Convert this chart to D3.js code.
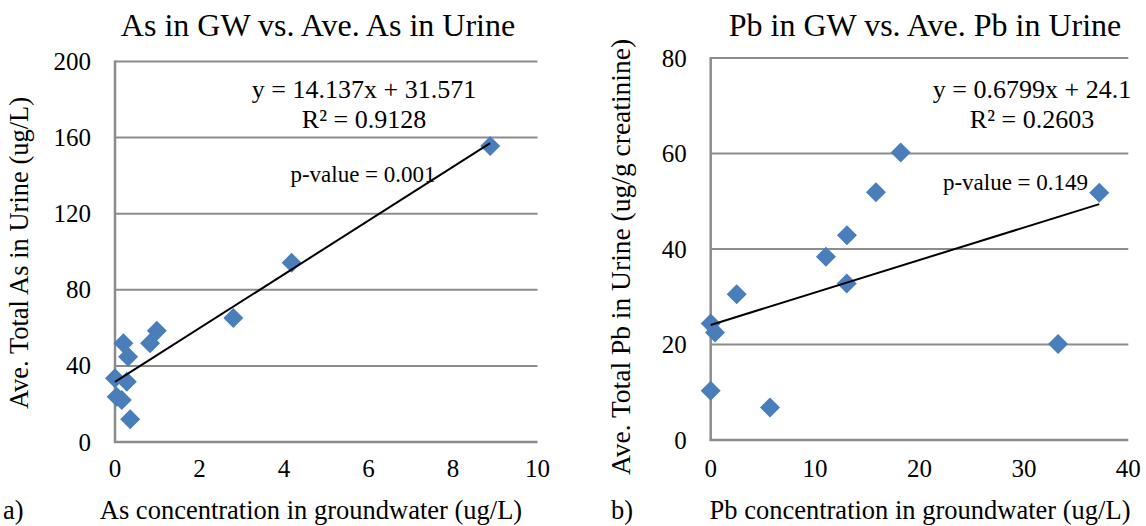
<!DOCTYPE html>
<html>
<head>
<meta charset="utf-8">
<script src="https://cdn.jsdelivr.net/npm/d3@7"></script>
<style>
  html, body { margin: 0; padding: 0; background: #fff; }
  svg { display: block; font-family: "Liberation Serif", "Times New Roman", serif; }
</style>
</head>
<body>
<svg id="chart" width="1146" height="526"></svg>
<script>
// ---- Data: chart a) As ----
const asX = [8.88, 4.18, 2.80, 0.99, 0.83, 0.20, 0.31, 0.00, 0.28, 0.04, 0.16, 0.36];
const asY = [155.6, 94.2, 65.2, 58.5, 51.9, 51.9, 44.8, 33.5, 31.7, 23.8, 22.1, 11.9];
const asTrend = [14.137, 31.571]; // slope, intercept
const asXTicks = [0, 2, 4, 6, 8, 10];
const asYTicks = [0, 40, 80, 120, 160, 200];
const asTexts = ["As in GW vs. Ave. As in Urine", "Ave. Total As in Urine (ug/L)", "As concentration in groundwater (ug/L)", "a)"];
const asEq = ["y = 14.137x + 31.571", "R\u00B2 = 0.9128", "p-value = 0.001"];

// ---- Data: chart b) Pb ----
const pbX = [0.00, 0.41, 2.49, 0.00, 5.68, 11.04, 13.03, 13.05, 15.83, 18.20, 33.27, 37.22];
const pbY = [24.4, 22.5, 30.5, 10.3, 6.8, 38.4, 32.8, 42.9, 51.9, 60.2, 20.1, 51.8];
const pbTrend = [0.6799, 24.1];
const pbXTicks = [0, 10, 20, 30, 40];
const pbYTicks = [0, 20, 40, 60, 80];
const pbTexts = ["Pb in GW vs. Ave. Pb in Urine", "Ave. Total Pb in Urine (ug/g creatinine)", "Pb concentration in groundwater (ug/L)", "b)"];
const pbEq = ["y = 0.6799x + 24.1", "R\u00B2 = 0.2603", "p-value = 0.149"];

const svg = d3.select("#chart");
const GRID = "#8c8c8c";
const BLUE = "#4a7ebb";

function drawPanel(cfg) {
  const x = d3.scaleLinear().domain(cfg.xDomain).range([cfg.left, cfg.right]);
  const y = d3.scaleLinear().domain(cfg.yDomain).range([cfg.bottom, cfg.top]);
  const g = svg.append("g");

  // gridlines
  g.selectAll("line.grid").data(cfg.yTicks.filter(d => d > 0)).join("line")
    .attr("x1", cfg.left).attr("x2", cfg.right)
    .attr("y1", d => y(d)).attr("y2", d => y(d))
    .attr("stroke", GRID).attr("stroke-width", 2);

  // axes lines
  g.append("line").attr("x1", cfg.left).attr("x2", cfg.left)
    .attr("y1", cfg.top - 1).attr("y2", cfg.bottom + 1)
    .attr("stroke", GRID).attr("stroke-width", 2.5);
  g.append("line").attr("x1", cfg.left - 1).attr("x2", cfg.right)
    .attr("y1", cfg.bottom).attr("y2", cfg.bottom)
    .attr("stroke", GRID).attr("stroke-width", 2.5);

  // y tick labels
  g.selectAll("text.yt").data(cfg.yTicks).join("text")
    .attr("x", cfg.left - 24).attr("y", d => y(d) + 8.5)
    .attr("text-anchor", "end").attr("font-size", 25).attr("fill", "#000")
    .text(d => d);
  // x tick labels
  g.selectAll("text.xt").data(cfg.xTicks).join("text")
    .attr("x", d => x(d)).attr("y", 477)
    .attr("text-anchor", "middle").attr("font-size", 25).attr("fill", "#000")
    .text(d => d);

  // markers
  const pts = cfg.xs.map((v, i) => [v, cfg.ys[i]]);
  const r = 10;
  g.selectAll("path.pt").data(pts).join("path")
    .attr("transform", d => `translate(${x(d[0])},${y(d[1])})`)
    .attr("d", `M0,${-r}L${r},0L0,${r}L${-r},0Z`)
    .attr("fill", BLUE);

  // trend line
  const x0 = d3.min(cfg.xs), x1 = d3.max(cfg.xs);
  const f = v => cfg.trend[0] * v + cfg.trend[1];
  g.append("line")
    .attr("x1", x(x0)).attr("y1", y(f(x0)))
    .attr("x2", x(x1)).attr("y2", y(f(x1)))
    .attr("stroke", "#000").attr("stroke-width", 2);

  // equation texts
  g.append("text").attr("x", cfg.eqX).attr("y", 98).attr("text-anchor", "middle")
    .attr("font-size", 26).text(cfg.eq[0]);
  g.append("text").attr("x", cfg.eqX).attr("y", 128).attr("text-anchor", "middle")
    .attr("font-size", 26).text(cfg.eq[1]);
  g.append("text").attr("x", cfg.pX).attr("y", cfg.pY).attr("text-anchor", "middle")
    .attr("font-size", 23).text(cfg.eq[2]);

  // title
  g.append("text").attr("x", cfg.titleX).attr("y", 36).attr("text-anchor", "middle")
    .attr("font-size", 32).text(cfg.texts[0]);
  // y title
  g.append("text")
    .attr("transform", `translate(${cfg.yTitleX},${cfg.yTitleY}) rotate(-90)`)
    .attr("text-anchor", "middle").attr("font-size", cfg.yTitleSize).text(cfg.texts[1]);
  // x title
  g.append("text").attr("x", cfg.xTitleX).attr("y", 519).attr("text-anchor", "middle")
    .attr("font-size", 26.5).text(cfg.texts[2]);
  g.append("text").attr("x", cfg.labX).attr("y", 519).attr("text-anchor", "start")
    .attr("font-size", 26.5).text(cfg.texts[3]);
}

drawPanel({
  xs: asX, ys: asY, trend: asTrend, xTicks: asXTicks, yTicks: asYTicks,
  xDomain: [0, 10], yDomain: [0, 200],
  left: 115, right: 537.5, top: 61.5, bottom: 442,
  texts: asTexts, eq: asEq,
  eqX: 364, pX: 363, pY: 182,
  titleX: 318, yTitleX: 28, yTitleY: 253, yTitleSize: 26.5, xTitleX: 311, labX: 3
});

drawPanel({
  xs: pbX, ys: pbY, trend: pbTrend, xTicks: pbXTicks, yTicks: pbYTicks,
  xDomain: [0, 40], yDomain: [0, 80],
  left: 710.7, right: 1128.3, top: 58, bottom: 440,
  texts: pbTexts, eq: pbEq,
  eqX: 1032, pX: 1015.5, pY: 190,
  titleX: 925, yTitleX: 630, yTitleY: 257, yTitleSize: 27.5, xTitleX: 920, labX: 611
});
</script>
</body>
</html>
